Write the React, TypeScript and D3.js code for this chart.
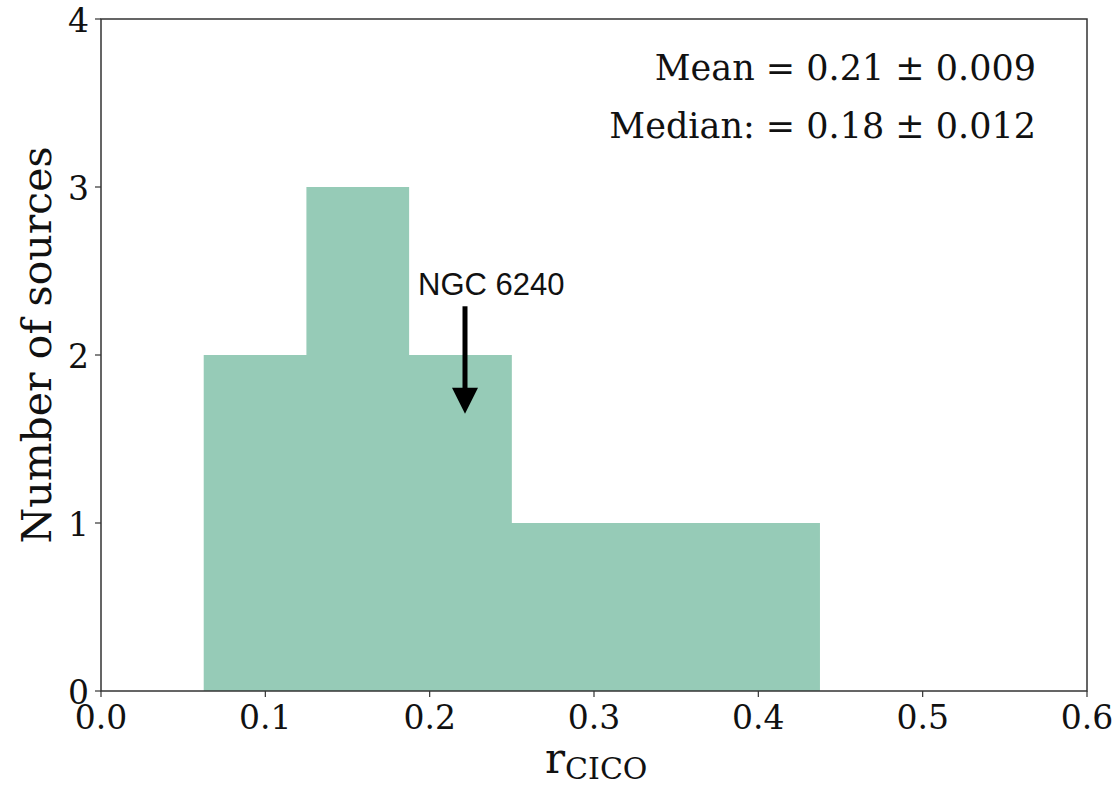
import React from 'react';
import * as d3 from 'd3';

// histogram bins of r_CICO and counts
const binEdges = [0.0625, 0.125, 0.1875, 0.25, 0.3125, 0.375, 0.4375];
const counts = [2, 3, 2, 1, 1, 1];
const xTicks = [0.0, 0.1, 0.2, 0.3, 0.4, 0.5, 0.6];
const yTicks = [0, 1, 2, 3, 4];
const statLines = ['Mean = 0.21 \u00b1 0.009', 'Median: = 0.18 \u00b1 0.012'];
// annotation: arrow from (0.2215, 2.29) down to (0.2215, 1.65)
const arrowX = 0.2215;
const arrowFrom = 2.29;
const arrowTo = 1.65;
const noteLabel = 'NGC 6240';

const W = 1119;
const H = 785;
const m = { left: 101, right: 1087, top: 19, bottom: 691 };
const serif = 'DejaVu Serif';

const App = () => {
  const x = d3.scaleLinear().domain([0, 0.6]).range([m.left, m.right]);
  const y = d3.scaleLinear().domain([0, 4]).range([m.bottom, m.top]);

  // one outline for the whole histogram so the bars don't show seams
  const pts: [number, number][] = [[x(binEdges[0]), y(0)]];
  counts.forEach((c, i) => {
    pts.push([x(binEdges[i]), y(c)]);
    pts.push([x(binEdges[i + 1]), y(c)]);
  });
  pts.push([x(binEdges[binEdges.length - 1]), y(0)]);
  const histPath = d3.line()(pts) + 'Z';

  const ax = x(arrowX);
  const ay0 = y(arrowFrom);
  const ay1 = y(arrowTo);
  const headH = 26;
  const headW = 13;

  return (
    <svg width={W} height={H} style={{ position: 'absolute', left: 0, top: 0 }}>
      <rect width={W} height={H} fill="white" />
      <path d={histPath} fill="#96cbb7" />

      {/* frame */}
      <rect
        x={m.left}
        y={m.top}
        width={m.right - m.left}
        height={m.bottom - m.top}
        fill="none"
        stroke="#333"
        strokeWidth={1.5}
      />

      {xTicks.map((t) => (
        <g key={t}>
          <line x1={x(t)} x2={x(t)} y1={m.bottom} y2={m.bottom + 6} stroke="#333" strokeWidth={1.2} />
          <text x={x(t)} y={729} textAnchor="middle" fontFamily={serif} fontSize={33} fill="#111">
            {t.toFixed(1)}
          </text>
        </g>
      ))}
      {yTicks.map((t) => (
        <g key={t}>
          <line x1={m.left - 6} x2={m.left} y1={y(t)} y2={y(t)} stroke="#333" strokeWidth={1.2} />
          <text x={89} y={y(t) + 13} textAnchor="end" fontFamily={serif} fontSize={33} fill="#111">
            {t}
          </text>
        </g>
      ))}

      <text
        transform={`translate(51, 345) rotate(-90)`}
        textAnchor="middle"
        fontFamily={serif}
        fontSize={41}
        fill="#111"
      >
        Number of sources
      </text>

      <text x={545} y={773} fontFamily={serif} fill="#111">
        <tspan fontSize={42}>r</tspan>
        <tspan fontSize={30} dy={6}>CICO</tspan>
      </text>

      {statLines.map((s, i) => (
        <text
          key={i}
          x={1036}
          y={80 + i * 58}
          textAnchor="end"
          fontFamily={serif}
          fontSize={35}
          fill="#111"
        >
          {s}
        </text>
      ))}

      <text x={418} y={295} fontFamily="Liberation Sans" fontSize={31} fill="#111">
        {noteLabel}
      </text>
      <line x1={ax} x2={ax} y1={ay0} y2={ay1 - headH + 1} stroke="#000" strokeWidth={5} />
      <path
        d={`M${ax - headW},${ay1 - headH} L${ax + headW},${ay1 - headH} L${ax},${ay1} Z`}
        fill="#000"
      />
    </svg>
  );
};

export default App;
